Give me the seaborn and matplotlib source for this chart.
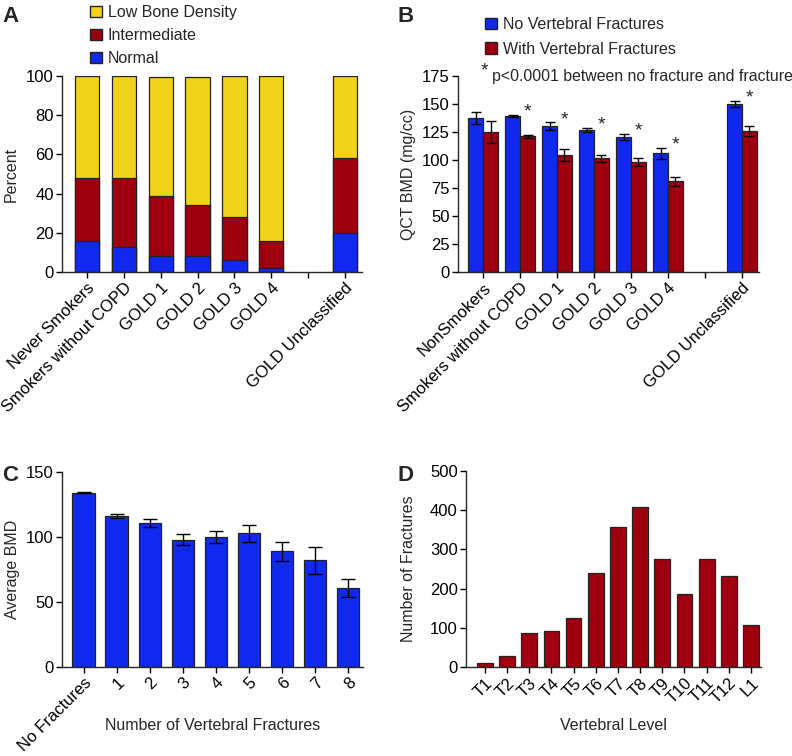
import matplotlib
matplotlib.use('Agg')
import matplotlib.pyplot as plt
from matplotlib.patches import Patch
import seaborn as sns
import pandas as pd
import numpy as np

BLUE = '#1128ee'
RED = '#9e0010'
YELLOW = '#f2d31b'
EDGE = '#222222'

# panel A: bone density class by smoking / GOLD group (percent)
groups_a = ['Never Smokers', 'Smokers without COPD', 'GOLD 1', 'GOLD 2',
            'GOLD 3', 'GOLD 4', 'GOLD Unclassified']
pct_normal = [16, 13, 8, 8, 6, 2, 20]
pct_intermediate = [32, 35, 31, 26, 22, 14, 38]
pct_low = [52, 52, 60.5, 65.3, 72, 84, 42]

# panel B: QCT BMD by group and fracture status
groups_b = ['NonSmokers', 'Smokers without COPD', 'GOLD 1', 'GOLD 2',
            'GOLD 3', 'GOLD 4', 'GOLD Unclassified']
bmd_no_frac = [137.5, 139.5, 130.5, 127, 120.5, 106, 150]
err_no_frac = [5, 1, 3.5, 2, 3, 5, 3]
bmd_with_frac = [125, 121, 104.5, 101.5, 98, 81, 126]
err_with_frac = [10, 1.5, 5, 3, 3.5, 4, 4.5]
significant = [False, True, True, True, True, True, True]

# panel C: average BMD by number of fractures
n_fractures = ['No Fractures', '1', '2', '3', '4', '5', '6', '7', '8']
avg_bmd = [134, 116, 111, 98, 100, 103, 89, 82, 61]
avg_bmd_err = [0.5, 1.5, 3, 4, 4.5, 6.5, 7.5, 10.5, 7]

# panel D: fractures per vertebral level
levels = ['T1', 'T2', 'T3', 'T4', 'T5', 'T6', 'T7', 'T8', 'T9', 'T10',
          'T11', 'T12', 'L1']
fracture_counts = [11, 27, 88, 92, 125, 241, 358, 407, 275, 186, 275, 232, 106]

sns.set_theme(style='ticks')
plt.rcParams['font.family'] = ['Liberation Sans', 'DejaVu Sans']
plt.rcParams['font.size'] = 11.5
plt.rcParams['axes.linewidth'] = 1.0
plt.rcParams['xtick.major.size'] = 4
plt.rcParams['ytick.major.size'] = 4
plt.rcParams['xtick.major.width'] = 1.0
plt.rcParams['ytick.major.width'] = 1.0
plt.rcParams['xtick.labelsize'] = 12
plt.rcParams['ytick.labelsize'] = 12
plt.rcParams['axes.labelsize'] = 11.5

W, H = 792, 756
fig = plt.figure(figsize=(W / 100, H / 100), dpi=100)


def px_axes(x0, x1, y0, y1):
    return fig.add_axes([x0 / W, 1 - y1 / H, (x1 - x0) / W, (y1 - y0) / H])


def style(ax):
    sns.despine(ax=ax)
    ax.tick_params(axis='both', colors='black', direction='out', pad=2)
    ax.set_xlabel('')


# ---------- A ----------
axA = px_axes(62, 362, 76, 272)
order_a = groups_a[:6] + [''] + groups_a[6:]
dfA = pd.DataFrame({'group': groups_a, 'normal': pct_normal,
                    'intermediate': pct_intermediate, 'low': pct_low})
dfA['cum_int'] = dfA['normal'] + dfA['intermediate']
dfA['cum_low'] = dfA['cum_int'] + dfA['low']
for col, c in [('cum_low', YELLOW), ('cum_int', RED), ('normal', BLUE)]:
    sns.barplot(data=dfA, x='group', y=col, order=order_a, color=c,
                saturation=1, width=0.66, edgecolor=EDGE, linewidth=0.9,
                ax=axA)
axA.set_xlim(-0.68, 7.46)
axA.set_ylim(0, 100)
axA.set_yticks(range(0, 101, 20))
style(axA)
axA.set_ylabel('Percent')
axA.yaxis.set_label_coords(-0.145, 0.5)
plt.setp(axA.get_xticklabels(), rotation=45, ha='right',
         rotation_mode='anchor')

fig.legend(handles=[Patch(facecolor=YELLOW, edgecolor=EDGE, label='Low Bone Density'),
                    Patch(facecolor=RED, edgecolor=EDGE, label='Intermediate'),
                    Patch(facecolor=BLUE, edgecolor=EDGE, label='Normal')],
           loc='upper left', bbox_to_anchor=(82 / W, 1 + 3 / H), frameon=False,
           borderpad=0, handlelength=0.75, handleheight=0.75,
           handletextpad=0.35, labelspacing=0.5, fontsize=11.5)

# ---------- B ----------
axB = px_axes(458, 759, 76, 272)
dfB = pd.DataFrame({
    'group': groups_b * 2,
    'status': ['No Vertebral Fractures'] * 7 + ['With Vertebral Fractures'] * 7,
    'bmd': bmd_no_frac + bmd_with_frac,
    'err': err_no_frac + err_with_frac,
})
order_b = groups_b[:6] + [''] + groups_b[6:]
sns.barplot(data=dfB, x='group', y='bmd', hue='status', order=order_b,
            palette=[BLUE, RED], saturation=1, width=0.8, edgecolor=EDGE,
            linewidth=0.9, legend=False, ax=axB)
tops = {}
for cont, status in zip(axB.containers, ['No Vertebral Fractures', 'With Vertebral Fractures']):
    sub = dfB[dfB.status == status].set_index('group')
    for bar in cont:
        h = bar.get_height()
        if not np.isfinite(h) or h == 0:
            continue
        xc = bar.get_x() + bar.get_width() / 2
        g = order_b[int(round(xc))]
        e = sub.loc[g, 'err']
        axB.errorbar(xc, h, yerr=e, color='black', capsize=3.5, lw=1,
                     capthick=1)
        tops.setdefault(g, []).append((xc, h + e))
for g, sig in zip(groups_b, significant):
    if sig:
        xr = tops[g][1][0]
        ytop = max(t[1] for t in tops[g])
        axB.text(xr, ytop + 2, '*', ha='center', va='center', fontsize=14)
axB.set_xlim(-0.68, 7.46)
axB.set_ylim(0, 175)
axB.set_yticks(range(0, 176, 25))
style(axB)
axB.set_ylabel('QCT BMD (mg/cc)')
axB.yaxis.set_label_coords(-0.14, 0.5)
plt.setp(axB.get_xticklabels(), rotation=45, ha='right',
         rotation_mode='anchor')

fig.legend(handles=[Patch(facecolor=BLUE, edgecolor=EDGE, label='No Vertebral Fractures'),
                    Patch(facecolor=RED, edgecolor=EDGE, label='With Vertebral Fractures')],
           loc='upper left', bbox_to_anchor=(477 / W, 1 - 9 / H), frameon=False,
           borderpad=0, handlelength=0.75, handleheight=0.75,
           handletextpad=0.35, labelspacing=0.6, fontsize=11.5)
fig.text(481 / W, 1 - 71 / H, '*', ha='left', va='center', fontsize=14)
fig.text(492 / W, 1 - 76 / H, 'p<0.0001 between no fracture and fracture',
         ha='left', va='center', fontsize=11.4)

# ---------- C ----------
axC = px_axes(62, 363, 472, 667)
sns.barplot(x=n_fractures, y=avg_bmd, color=BLUE, saturation=1, width=0.67,
            edgecolor=EDGE, linewidth=0.9, ax=axC)
for bar, e in zip(axC.patches, avg_bmd_err):
    xc = bar.get_x() + bar.get_width() / 2
    axC.errorbar(xc, bar.get_height(), yerr=e, color='black', capsize=5,
                 lw=1, capthick=1)
axC.set_xlim(-0.65, 8.45)
axC.set_ylim(0, 150)
axC.set_yticks([0, 50, 100, 150])
style(axC)
axC.set_ylabel('Average BMD')
axC.yaxis.set_label_coords(-0.14, 0.5)
axC.set_xlabel('Number of Vertebral Fractures')
axC.xaxis.set_label_coords(0.5, -0.26)
plt.setp(axC.get_xticklabels(), rotation=45, ha='right',
         rotation_mode='anchor')

# ---------- D ----------
axD = px_axes(466, 761, 471, 667)
sns.barplot(x=levels, y=fracture_counts, color=RED, saturation=1, width=0.71,
            edgecolor=EDGE, linewidth=0.9, ax=axD)
axD.set_xlim(-0.85, 12.45)
axD.set_ylim(0, 500)
axD.set_yticks(range(0, 501, 100))
style(axD)
axD.set_ylabel('Number of Fractures')
axD.yaxis.set_label_coords(-0.17, 0.5)
axD.set_xlabel('Vertebral Level')
axD.xaxis.set_label_coords(0.5, -0.26)
plt.setp(axD.get_xticklabels(), rotation=45, ha='right',
         rotation_mode='anchor')

# panel letters
for lab, x, y in [('A', 2, 6), ('B', 398, 6), ('C', 2, 465), ('D', 398, 465)]:
    fig.text(x / W, 1 - y / H, lab, ha='left', va='top', fontsize=16,
             fontweight='bold')

fig.savefig('out.png', dpi=100)
